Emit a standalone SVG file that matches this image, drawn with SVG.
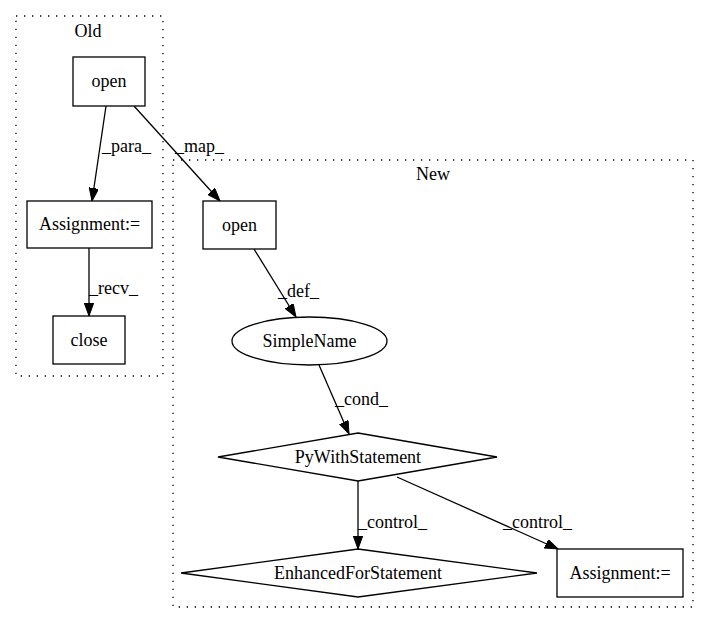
<svg xmlns="http://www.w3.org/2000/svg" width="709" height="624" viewBox="0 0 709 624">
<style>
text{font-family:"Liberation Serif","Times New Roman",serif;font-size:18px;fill:#000}
.c{text-anchor:middle}
.n{fill:#fff;stroke:#000;stroke-width:1.3}
.cl{fill:none;stroke:#000;stroke-width:1.3;stroke-dasharray:1.3,6.7}
.e{fill:none;stroke:#000;stroke-width:1.3;marker-end:url(#ah)}
</style>
<defs>
<marker id="ah" markerUnits="userSpaceOnUse" markerWidth="14" markerHeight="10" refX="13" refY="4.7" orient="auto">
<path d="M0,0 L13,4.7 L0,9.4 z" fill="#000" stroke="#000" stroke-width="1"/>
</marker>
</defs>
<rect width="709" height="624" fill="#fff"/>
<g id="cluster_old">
<rect class="cl" x="16" y="16" width="147" height="360"/>
<text class="c" x="88" y="37">Old</text>
</g>
<g id="cluster_new">
<rect class="cl" x="173" y="160" width="520" height="447"/>
<text class="c" x="433" y="180">New</text>
</g>
<g id="edges">
<path class="e" d="M106,106 L92,201"/>
<text x="102" y="152">_para_</text>
<path class="e" d="M89,248 L89,316"/>
<text x="89" y="294">_recv_</text>
<path class="e" d="M134,106 L220,201"/>
<text x="175" y="152">_map_</text>
<path class="e" d="M254,249 L296,317"/>
<text x="278" y="297">_def_</text>
<path class="e" d="M319,365 L349,434"/>
<text x="335" y="405">_cond_</text>
<path class="e" d="M358,481 L358,549"/>
<text x="358" y="528">_control_</text>
<path class="e" d="M397,477 L558,549"/>
<text x="503" y="528">_control_</text>
</g>
<g id="old_open">
<rect class="n" x="73" y="57" width="72" height="49"/>
<text class="c" x="109" y="87">open</text>
</g>
<g id="old_assignment">
<rect class="n" x="27" y="201" width="125" height="47"/>
<text class="c" x="89.5" y="230">Assignment:=</text>
</g>
<g id="old_close">
<rect class="n" x="53" y="316" width="72" height="48"/>
<text class="c" x="89" y="346">close</text>
</g>
<g id="new_open">
<rect class="n" x="203" y="201" width="73" height="48"/>
<text class="c" x="239.5" y="231">open</text>
</g>
<g id="new_simplename">
<ellipse class="n" cx="309.5" cy="341" rx="77.5" ry="24"/>
<text class="c" x="309.5" y="347">SimpleName</text>
</g>
<g id="new_pywith">
<polygon class="n" points="358,433 497,457 358,481 218,457"/>
<text class="c" x="358" y="463">PyWithStatement</text>
</g>
<g id="new_enhancedfor">
<polygon class="n" points="358,549 537,573 358,597 181,573"/>
<text class="c" x="358" y="579">EnhancedForStatement</text>
</g>
<g id="new_assignment">
<rect class="n" x="557" y="549" width="126" height="48"/>
<text class="c" x="620" y="579">Assignment:=</text>
</g>
</svg>
